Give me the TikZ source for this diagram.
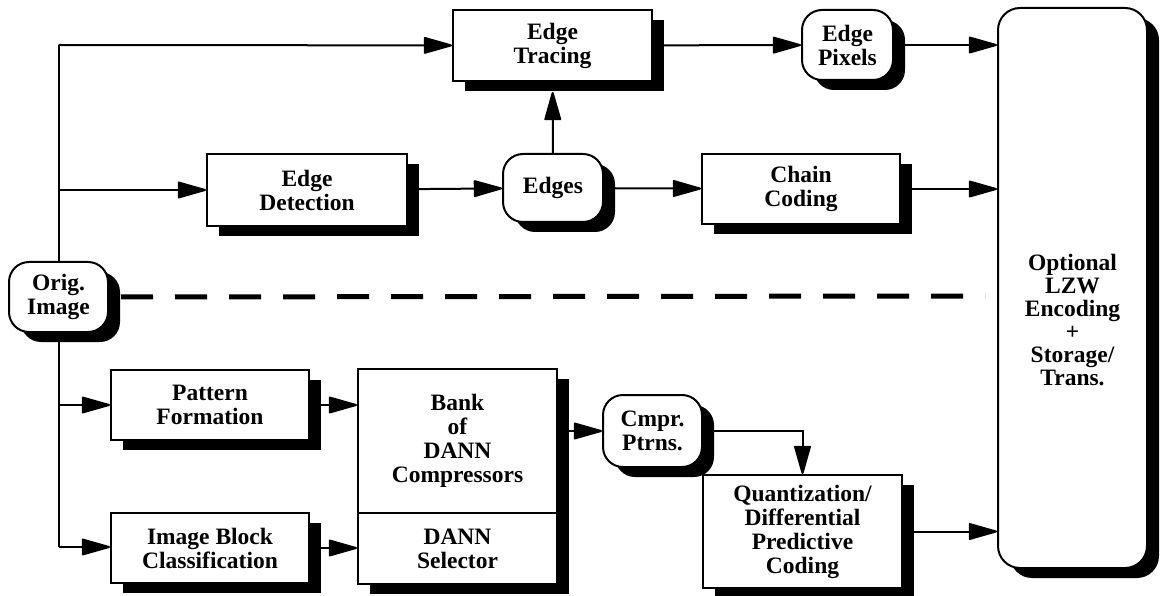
\documentclass[tikz,border=0pt]{standalone}
\usepackage{fontspec}
\setmainfont{Liberation Serif}
\usetikzlibrary{arrows.meta,shadows}

\begin{document}
\begin{tikzpicture}[
    x=1pt,y=-1pt,
    line width=2pt,
    box/.style={draw,fill=white,align=center,inner sep=2pt,
        font=\fontsize{23.5}{24}\selectfont\bfseries,
        drop shadow={shadow xshift=12pt,shadow yshift=-10pt,fill=black,opacity=1}},
    rbox/.style={box,rounded corners=20pt},
    >={Triangle[length=31pt,width=17pt,round]}
]
\useasboundingbox (0,0) rectangle (1160,596);

\node[rbox,minimum width=99pt,minimum height=70pt] (orig) at (58.5,297) {Orig.\\Image};

% upper half
\node[box,minimum width=199pt,minimum height=71pt] (tracing) at (552.5,45.5) {Edge\\Tracing};
\node[rbox,minimum width=91pt,minimum height=70pt] (pixels) at (847.5,45) {Edge\\Pixels};
\node[box,minimum width=200pt,minimum height=72pt] (detect) at (307,190) {Edge\\Detection};
\node[rbox,minimum width=100pt,minimum height=68pt] (edges) at (553,188) {Edges};
\node[box,minimum width=198pt,minimum height=70pt] (chain) at (801,189) {Chain\\Coding};

% storage
\node[box,rounded corners=22pt,minimum width=149pt,minimum height=560pt] (lzw) at (1072.5,288) {};
\node[align=center,font=\fontsize{23.5}{23}\selectfont\bfseries] (lzwtext) at ([yshift=-32pt]lzw.center)
    {Optional\\LZW\\Encoding\\+\\Storage/\\Trans.};

% lower half
\node[box,minimum width=198pt,minimum height=70pt] (pattern) at (210,405) {Pattern\\Formation};
\node[box,minimum width=198pt,minimum height=70pt] (classif) at (210,548) {Image Block\\Classification};
\node[box,minimum width=199pt,minimum height=144pt] (bank) at (457.5,441) {Bank\\of\\DANN\\Compressors};
\node[box,minimum width=199pt,minimum height=71pt] (selector) at (457.5,548.5) {DANN\\Selector};
\node[rbox,minimum width=99pt,minimum height=72pt] (cmpr) at (652.5,431) {Cmpr.\\Ptrns.};
\node[box,minimum width=199pt,minimum height=113pt] (quant) at (802.5,531.5) {Quantization/\\Differential\\Predictive\\Coding};

\coordinate (top) at (58.5,45);
\coordinate (bot) at (58.5,547);
\coordinate (dashend) at (985,296);

\draw (top) -- (orig);
\draw (orig) -- (bot);
\draw[->] (top) -- (tracing);
\draw[->] (top |- detect) -- (detect);
\draw[->] (bot |- pattern) -- (pattern);
\draw[->] (bot) -- (bot -| classif.west);

\draw[->] (tracing) -- (pixels);
\draw[->] (detect) -- (edges);
\draw[->] (edges) -- (chain);
\draw[->,shorten >=10pt] (edges) -- (tracing);
\draw[->] (pixels) -- (pixels -| lzw.west);
\draw[->] (chain) -- (chain -| lzw.west);

\draw[line width=5pt,dash pattern=on 32pt off 22pt] ([xshift=12pt]orig.east) -- (dashend);

\draw[->] (pattern) -- (pattern -| bank.west);
\draw[->] (classif) -- (classif -| selector.west);
\draw[->] (bank.east |- cmpr) -- (cmpr);
\draw[->] (cmpr) -| (quant);
\draw[->] (quant) -- (quant -| lzw.west);
\end{tikzpicture}
\end{document}
